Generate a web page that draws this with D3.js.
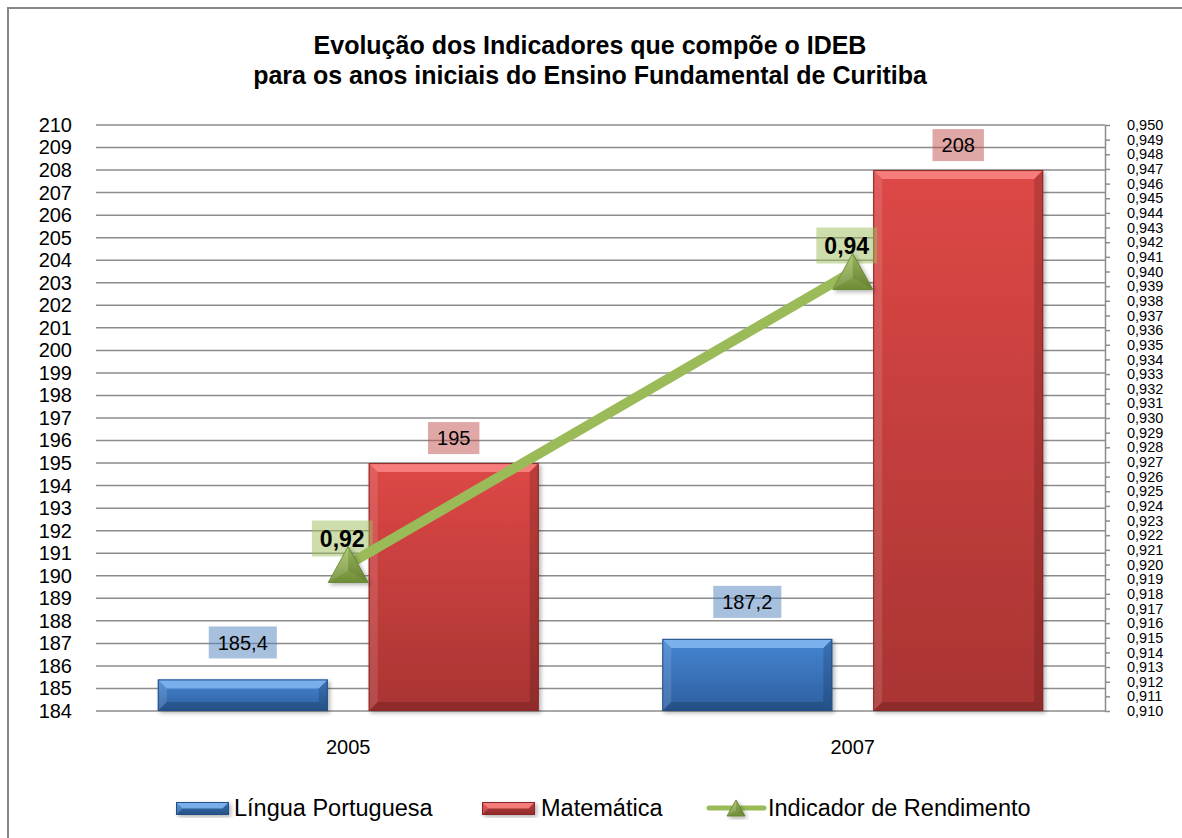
<!DOCTYPE html>
<html>
<head>
<meta charset="utf-8">
<script src="https://cdn.jsdelivr.net/npm/d3@7"></script>
<style>
  body { margin: 0; background: #fff; }
  text { font-family: "Liberation Sans", Arial, sans-serif; }
</style>
</head>
<body>
<div id="container"></div>
<script>
// data
const years = ['2005', '2007'];
const portugues = [185.4, 187.2];
const matematica = [195, 208];
const rendimento = [0.92, 0.94];
const seriesNames = ['Língua Portuguesa', 'Matemática', 'Indicador de Rendimento'];
const leftTicks = d3.range(184, 211, 1);
const rightTicks = d3.range(910, 951, 1).map(v => v / 1000);

const width = 1182, height = 838;
const br = d3.formatLocale({ decimal: ',', thousands: '.', grouping: [3], currency: ['R$', ''] });
const fmtBar = br.format('.1~f');
const fmtLine = br.format('.2f');
const fmtRight = br.format('.3f');

const svg = d3.select('#container').append('svg')
  .attr('width', width).attr('height', height);

const defs = svg.append('defs');
function grad(id, stops) {
  const g = defs.append('linearGradient').attr('id', id)
    .attr('x1', 0).attr('y1', 0).attr('x2', 0).attr('y2', 1);
  stops.forEach(s => g.append('stop').attr('offset', s[0]).attr('stop-color', s[1]));
}
grad('gBlue', [[0, '#4586d3'], [1, '#2d5f9f']]);
grad('gRed', [[0, '#dd4846'], [1, '#a93433']]);
grad('gTri', [[0, '#a6c466'], [1, '#6f8c36']]);
defs.append('filter').attr('id', 'shadow').attr('x', '-10%').attr('y', '-10%').attr('width', '130%').attr('height', '130%')
  .append('feDropShadow').attr('dx', 2).attr('dy', 2).attr('stdDeviation', 2)
  .attr('flood-color', '#000').attr('flood-opacity', 0.3);

// outer frame
svg.append('rect').attr('x', 8).attr('y', 8).attr('width', 1200).attr('height', 860)
  .attr('fill', 'none').attr('stroke', '#878787').attr('stroke-width', 2);

// title
const title = svg.append('text').attr('x', 590).attr('y', 54)
  .attr('text-anchor', 'middle').attr('font-size', 25).attr('font-weight', 'bold').attr('fill', '#000');
title.append('tspan').attr('x', 590).text('Evolução dos Indicadores que compõe o IDEB');
title.append('tspan').attr('x', 590).attr('dy', 30).text('para os anos iniciais do Ensino Fundamental de Curitiba');

// scales
const x0 = d3.scaleBand().domain(years).range([96, 1105]);
const x1 = d3.scaleBand().domain(['pt', 'mat']).range([0, x0.bandwidth()])
  .paddingInner(0.194).paddingOuter(0.293);
const yL = d3.scaleLinear().domain([184, 210]).range([711, 125]);
const yR = d3.scaleLinear().domain([0.910, 0.950]).range([711, 125]);

// gridlines
svg.append('g').selectAll('line').data(leftTicks).join('line')
  .attr('x1', 96).attr('x2', 1105)
  .attr('y1', d => yL(d)).attr('y2', d => yL(d))
  .attr('stroke', '#8c8c8c').attr('stroke-width', 1.5);

// left axis labels
const axL = svg.append('g').attr('transform', 'translate(96,0)')
  .call(d3.axisLeft(yL).tickValues(leftTicks).tickSize(0).tickPadding(24).tickFormat(d3.format('d')));
axL.select('.domain').remove();
axL.selectAll('text').attr('font-size', 20).attr('fill', '#000')
  .style('font-family', '"Liberation Sans", Arial, sans-serif');

// right axis
const axR = svg.append('g').attr('transform', 'translate(1105,0)')
  .call(d3.axisRight(yR).tickValues(rightTicks).tickSize(5).tickSizeOuter(0).tickPadding(17).tickFormat(fmtRight));
axR.select('.domain').attr('stroke', '#8c8c8c').attr('stroke-width', 1.5);
axR.selectAll('.tick line').attr('stroke', '#8c8c8c').attr('stroke-width', 1.5);
axR.selectAll('text').attr('font-size', 14.5).attr('fill', '#000')
  .style('font-family', '"Liberation Sans", Arial, sans-serif');

// x labels
svg.append('g').selectAll('text').data(years).join('text')
  .attr('x', d => x0(d) + x0.bandwidth() / 2).attr('y', 754)
  .attr('text-anchor', 'middle').attr('font-size', 20).text(d => d);

// bars with bevel
const bev = 9;
function drawBar(g, x, w, y0, y1, fill, lightTop, darkEdge) {
  const h = y1 - y0;
  const b = g.append('g').attr('filter', 'url(#shadow)');
  b.append('rect').attr('x', x).attr('y', y0).attr('width', w).attr('height', h).attr('fill', fill);
  const e = Math.min(bev, h / 2);
  b.append('polygon').attr('points', [[x, y0], [x + w, y0], [x + w - e, y0 + e], [x + e, y0 + e]].join(' '))
    .attr('fill', lightTop).attr('opacity', 0.75);
  b.append('polygon').attr('points', [[x, y0], [x + e, y0 + e], [x + e, y1 - e], [x, y1]].join(' '))
    .attr('fill', '#fff').attr('opacity', 0.12);
  b.append('polygon').attr('points', [[x + w, y0], [x + w, y1], [x + w - e, y1 - e], [x + w - e, y0 + e]].join(' '))
    .attr('fill', '#000').attr('opacity', 0.15);
  b.append('polygon').attr('points', [[x, y1], [x + e, y1 - e], [x + w - e, y1 - e], [x + w, y1]].join(' '))
    .attr('fill', '#000').attr('opacity', 0.16);
  b.append('rect').attr('x', x + 0.5).attr('y', y0 + 0.5).attr('width', w - 1).attr('height', h - 1)
    .attr('fill', 'none').attr('stroke', darkEdge).attr('stroke-width', 1);
}

const bars = svg.append('g');
years.forEach((yr, i) => {
  drawBar(bars, x0(yr) + x1('pt'), x1.bandwidth(), yL(portugues[i]), yL(184), 'url(#gBlue)', '#8cc0f5', '#24508a');
  drawBar(bars, x0(yr) + x1('mat'), x1.bandwidth(), yL(matematica[i]), yL(184), 'url(#gRed)', '#ff8f8d', '#8a2726');
});

// bar labels
function boxLabel(g, cx, bottom, txt, bg, size, weight, padX, boxH) {
  const t = g.append('text').attr('x', cx).attr('text-anchor', 'middle')
    .attr('font-size', size).attr('font-weight', weight).text(txt);
  const tw = t.node().getComputedTextLength();
  g.insert('rect', () => t.node())
    .attr('x', cx - tw / 2 - padX).attr('y', bottom - boxH)
    .attr('width', tw + 2 * padX).attr('height', boxH).attr('fill', bg);
  t.attr('y', bottom - boxH / 2 + size * 0.36);
}
const labels = svg.append('g');
years.forEach((yr, i) => {
  boxLabel(labels, x0(yr) + x1('pt') + x1.bandwidth() / 2, yL(portugues[i]) - 21,
    fmtBar(portugues[i]), 'rgba(79,129,189,0.5)', 20, 'normal', 9, 32);
  boxLabel(labels, x0(yr) + x1('mat') + x1.bandwidth() / 2, yL(matematica[i]) - 9,
    fmtBar(matematica[i]), 'rgba(192,80,77,0.5)', 20, 'normal', 9, 32);
});

// line series
const lx = d => x0(d) + x0.bandwidth() / 2;
const linePts = years.map((yr, i) => [lx(yr), yR(rendimento[i])]);
svg.append('path').attr('d', d3.line()(linePts))
  .attr('fill', 'none').attr('stroke', '#9bbb59').attr('stroke-width', 10).attr('stroke-linecap', 'butt');

function triangle(g, cx, cy, w, h) {
  const t = g.append('g').attr('transform', `translate(${cx},${cy})`).attr('filter', 'url(#shadow)');
  t.append('path').attr('d', `M0,${-h / 2}L${w / 2},${h / 2}L${-w / 2},${h / 2}Z`)
    .attr('fill', 'url(#gTri)').attr('stroke', '#6b8a35').attr('stroke-width', 1);
  t.append('path').attr('d', `M0,${-h / 2}L${-w / 2},${h / 2}L0,${h / 6}Z`)
    .attr('fill', '#fff').attr('opacity', 0.12);
  t.append('path').attr('d', `M0,${-h / 2}L${w / 2},${h / 2}L0,${h / 6}Z`)
    .attr('fill', '#000').attr('opacity', 0.08);
}
const markers = svg.append('g');
linePts.forEach(p => triangle(markers, p[0], p[1], 40, 36));

linePts.forEach((p, i) => {
  boxLabel(labels, p[0] - 6, p[1] - 8, fmtLine(rendimento[i]), 'rgba(155,187,89,0.5)', 23, 'bold', 8, 36);
});

// legend
const leg = svg.append('g');
drawBar(leg, 176, 53, 802, 815, 'url(#gBlue)', '#8cc0f5', '#24508a');
leg.append('text').attr('x', 234).attr('y', 816).attr('font-size', 23.5).text(seriesNames[0]);
drawBar(leg, 482, 53, 802, 815, 'url(#gRed)', '#ff8f8d', '#8a2726');
leg.append('text').attr('x', 541).attr('y', 816).attr('font-size', 23.5).text(seriesNames[1]);
leg.append('line').attr('x1', 709).attr('x2', 764).attr('y1', 808).attr('y2', 808)
  .attr('stroke', '#9bbb59').attr('stroke-width', 5).attr('stroke-linecap', 'round');
triangle(leg, 736, 808, 18, 16);
leg.append('text').attr('x', 768).attr('y', 816).attr('font-size', 23.5).text(seriesNames[2]);
</script>
</body>
</html>
